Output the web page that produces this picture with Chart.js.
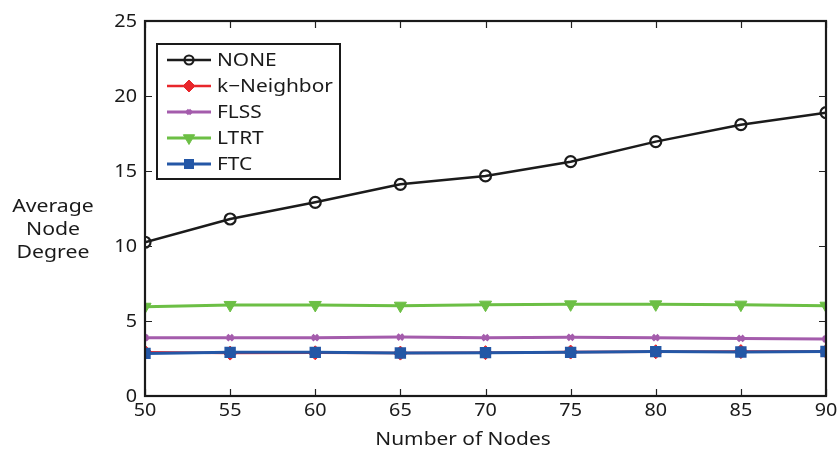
<!DOCTYPE html>
<html>
<head>
<meta charset="utf-8">
<script src="https://cdn.jsdelivr.net/npm/chart.js@4"></script>
<style>
  html, body { margin: 0; padding: 0; background: #fff; }
  #wrap { width: 838px; height: 450px; }
</style>
</head>
<body>
<div id="wrap"><canvas id="c" width="838" height="450"></canvas></div>
<script>
// Number of nodes in the network
const nodes = [50, 55, 60, 65, 70, 75, 80, 85, 90];

// Average node degree per topology-control scheme
const noneDeg      = [10.25, 11.80, 12.91, 14.11, 14.67, 15.62, 16.96, 18.09, 18.89];
const kNeighborDeg = [2.92, 2.86, 2.88, 2.86, 2.89, 2.93, 2.95, 2.96, 2.97];
const flssDeg      = [3.89, 3.89, 3.89, 3.93, 3.89, 3.91, 3.89, 3.84, 3.80];
const ltrtDeg      = [5.95, 6.07, 6.07, 6.02, 6.09, 6.11, 6.11, 6.09, 6.02];
const ftcDeg       = [2.84, 2.91, 2.91, 2.87, 2.89, 2.91, 2.96, 2.93, 2.97];

const seriesNames = ['NONE', 'k\u2212Neighbor', 'FLSS', 'LTRT', 'FTC'];
const xTicks = [50, 55, 60, 65, 70, 75, 80, 85, 90];
const yTicks = [0, 5, 10, 15, 20, 25];

const FONT = '"Noto Sans", "Liberation Sans", sans-serif';
const TEXT = '#1a1a1a';

function pts(vals) { return vals.map((v, i) => ({ x: nodes[i], y: v })); }

const styles = [
  { color: '#1b1b1b', width: 2.5, point: 'circle',   radius: 5.5, fill: 'rgba(0,0,0,0)', rot: 0, pbw: 2.2 },
  { color: '#e8262b', width: 2.5, point: 'rectRot',  radius: 7,   fill: '#e8262b', rot: 0, pbw: 1 },
  { color: '#a45cac', width: 3,   point: 'crossRot', radius: 4,   fill: '#a45cac', rot: 0, pbw: 3 },
  { color: '#6cbf45', width: 3,   point: 'triangle', radius: 7,   fill: '#6cbf45', rot: 180, pbw: 1 },
  { color: '#2457a6', width: 3,   point: 'rect',     radius: 7,   fill: '#2457a6', rot: 0, pbw: 1.5 }
];
const seriesData = [noneDeg, kNeighborDeg, flssDeg, ltrtDeg, ftcDeg];

const datasets = seriesData.map((vals, i) => ({
  label: seriesNames[i],
  data: pts(vals),
  borderColor: styles[i].color,
  backgroundColor: styles[i].fill,
  borderWidth: styles[i].width,
  pointStyle: styles[i].point,
  pointRadius: styles[i].radius,
  pointRotation: styles[i].rot,
  pointBorderWidth: styles[i].pbw,
  pointBorderColor: styles[i].color,
  pointBackgroundColor: styles[i].fill,
  tension: 0,
  order: seriesData.length - 1 - i
}));

// text drawn with a slight horizontal stretch
function stretchText(ctx, text, x, y, align, sx) {
  ctx.save();
  ctx.translate(x, y);
  ctx.scale(sx, 1);
  ctx.textAlign = align;
  ctx.fillText(text, 0, 0);
  ctx.restore();
}

// Box frame, inward ticks, tick labels, axis titles and boxed legend
const decorations = {
  id: 'decorations',
  afterDatasetsDraw(chart) {
    const ctx = chart.ctx;
    const a = chart.chartArea;
    const xs = chart.scales.x, ys = chart.scales.y;
    ctx.save();
    // inward ticks
    ctx.strokeStyle = '#222';
    ctx.lineWidth = 1.2;
    const tl = 7;
    xTicks.forEach(v => {
      const px = Math.round(xs.getPixelForValue(v)) + 0.5;
      ctx.beginPath();
      ctx.moveTo(px, a.bottom); ctx.lineTo(px, a.bottom - tl);
      ctx.moveTo(px, a.top); ctx.lineTo(px, a.top + tl);
      ctx.stroke();
    });
    yTicks.forEach(v => {
      const py = Math.round(ys.getPixelForValue(v)) + 0.5;
      ctx.beginPath();
      ctx.moveTo(a.left, py); ctx.lineTo(a.left + tl, py);
      ctx.moveTo(a.right, py); ctx.lineTo(a.right - tl, py);
      ctx.stroke();
    });
    // frame
    ctx.strokeStyle = '#1a1a1a';
    ctx.lineWidth = 2.2;
    ctx.strokeRect(a.left, a.top, a.right - a.left, a.bottom - a.top);

    // tick labels
    ctx.fillStyle = TEXT;
    ctx.font = '18px ' + FONT;
    ctx.textBaseline = 'middle';
    xTicks.forEach(v => {
      stretchText(ctx, String(v), xs.getPixelForValue(v), a.bottom + 15, 'center', 1.1);
    });
    yTicks.forEach(v => {
      stretchText(ctx, String(v), a.left - 8, ys.getPixelForValue(v) + 1, 'right', 1.1);
    });

    // legend box
    const lx = a.left + 12, ly = a.top + 23, lw = 183, lh = 135;
    ctx.fillStyle = '#fff';
    ctx.fillRect(lx, ly, lw, lh);
    ctx.strokeStyle = '#1a1a1a';
    ctx.lineWidth = 2;
    ctx.strokeRect(lx, ly, lw, lh);
    chart.data.datasets.forEach((ds, i) => {
      const cy = ly + 16 + i * 26;
      ctx.strokeStyle = ds.borderColor;
      ctx.lineWidth = ds.borderWidth;
      ctx.beginPath();
      ctx.moveTo(lx + 10, cy); ctx.lineTo(lx + 54, cy);
      ctx.stroke();
      ctx.fillStyle = ds.pointBackgroundColor;
      ctx.strokeStyle = ds.pointBorderColor;
      ctx.lineWidth = ds.pointBorderWidth;
      const r = ds.pointStyle === 'circle' ? 4.5 : (ds.pointStyle === 'triangle' ? 6.5 : ds.pointRadius - 1);
      Chart.helpers.drawPoint(ctx, {
        pointStyle: ds.pointStyle,
        radius: r,
        rotation: ds.pointRotation,
        borderWidth: ds.pointBorderWidth
      }, lx + 32, cy);
      ctx.fillStyle = TEXT;
      ctx.font = '18px ' + FONT;
      ctx.textBaseline = 'middle';
      stretchText(ctx, ds.label, lx + 60, cy + 1, 'left', 1.16);
    });

    // axis titles
    ctx.fillStyle = TEXT;
    ctx.font = '18px ' + FONT;
    ctx.textBaseline = 'middle';
    stretchText(ctx, 'Number of Nodes', a.left + 318, a.bottom + 44, 'center', 1.16);
    const ty = ['Average', 'Node', 'Degree'];
    ty.forEach((t, i) => stretchText(ctx, t, a.left - 92, a.top + 186 + i * 23, 'center', 1.18));
    ctx.restore();
  }
};

new Chart(document.getElementById('c'), {
  type: 'line',
  data: { datasets },
  options: {
    responsive: false,
    animation: false,
    layout: { padding: { left: 0, top: 21, right: 12, bottom: 0 } },
    plugins: { legend: { display: false }, tooltip: { enabled: false } },
    scales: {
      x: {
        type: 'linear',
        min: 50, max: 90,
        afterBuildTicks(scale) { scale.ticks = xTicks.map(v => ({ value: v })); },
        afterFit(scale) { scale.height = 54; },
        grid: { display: false, drawTicks: false },
        border: { display: false },
        ticks: { display: false }
      },
      y: {
        type: 'linear',
        min: 0, max: 25,
        afterBuildTicks(scale) { scale.ticks = yTicks.map(v => ({ value: v })); },
        afterFit(scale) { scale.width = 145; },
        grid: { display: false, drawTicks: false },
        border: { display: false },
        ticks: { display: false }
      }
    }
  },
  plugins: [decorations]
});
</script>
</body>
</html>
